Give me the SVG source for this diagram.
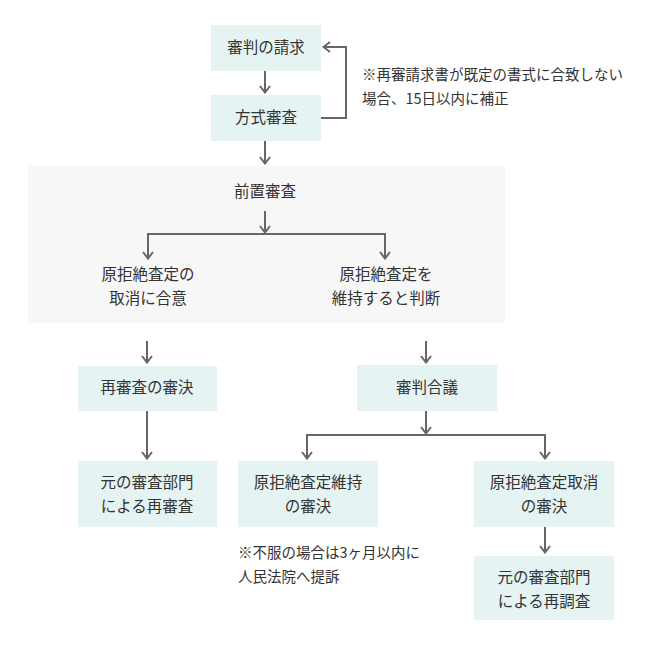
<svg xmlns="http://www.w3.org/2000/svg" width="660" height="645" viewBox="0 0 660 645">
<defs>
<style>
.box{fill:#e5f4f2;}
.t{font-family:"Noto Sans CJK JP","Noto Sans",sans-serif;font-size:15.5px;fill:#333;text-anchor:middle;}
.n{font-family:"Noto Sans CJK JP","Noto Sans",sans-serif;font-size:14.5px;fill:#333;}
.ln{fill:none;stroke:#666;stroke-width:2;}
</style>
<marker id="ah" viewBox="0 0 9 12" refX="8" refY="6" markerWidth="9" markerHeight="12" markerUnits="userSpaceOnUse" orient="auto-start-reverse">
<path d="M1,1 L7.5,6 L1,11" fill="none" stroke="#666" stroke-width="2"/>
</marker>
</defs>
<rect width="660" height="645" fill="#fff"/>
<g id="region">
<rect x="28" y="166" width="477" height="157" fill="#f7f7f7"/>
</g>
<g id="connectors">
<path class="ln" d="M265,71 V93" marker-end="url(#ah)"/>
<path class="ln" d="M321,118 H346 V47 H323" marker-end="url(#ah)"/>
<path class="ln" d="M265,141 V164" marker-end="url(#ah)"/>
<path class="ln" d="M265,211 V233" marker-end="url(#ah)"/>
<path class="ln" d="M148,259 V234 H385 V259" marker-start="url(#ah)" marker-end="url(#ah)"/>
<path class="ln" d="M147,341 V363" marker-end="url(#ah)"/>
<path class="ln" d="M147,411 V459" marker-end="url(#ah)"/>
<path class="ln" d="M426,341 V363" marker-end="url(#ah)"/>
<path class="ln" d="M426,411 V434" marker-end="url(#ah)"/>
<path class="ln" d="M307,459 V435 H545 V459" marker-start="url(#ah)" marker-end="url(#ah)"/>
<path class="ln" d="M545,527 V553" marker-end="url(#ah)"/>
</g>
<g id="n1"><rect class="box" x="211" y="25" width="110" height="46"/><text class="t" x="266" y="53">審判の請求</text></g>
<g id="n2"><rect class="box" x="211" y="95" width="110" height="46"/><text class="t" x="266" y="123">方式審査</text></g>
<g id="note1"><text class="n" x="362" y="80">※再審請求書が既定の書式に合致しない</text><text class="n" x="362" y="104">場合、15日以内に補正</text></g>
<g id="n3"><text class="t" x="265" y="197">前置審査</text></g>
<g id="n4"><text class="t" x="148" y="280">原拒絶査定の</text><text class="t" x="148" y="304">取消に合意</text></g>
<g id="n5"><text class="t" x="386" y="280">原拒絶査定を</text><text class="t" x="386" y="304">維持すると判断</text></g>
<g id="n6"><rect class="box" x="78" y="366" width="139" height="45"/><text class="t" x="147" y="393">再審査の審決</text></g>
<g id="n7"><rect class="box" x="78" y="461" width="139" height="66"/><text class="t" x="147" y="488">元の審査部門</text><text class="t" x="147" y="512">による再審査</text></g>
<g id="n8"><rect class="box" x="357" y="365" width="140" height="46"/><text class="t" x="427" y="393">審判合議</text></g>
<g id="n9"><rect class="box" x="238" y="461" width="140" height="66"/><text class="t" x="308" y="488">原拒絶査定維持</text><text class="t" x="308" y="512">の審決</text></g>
<g id="n10"><rect class="box" x="474" y="461" width="140" height="66"/><text class="t" x="544" y="488">原拒絶査定取消</text><text class="t" x="544" y="512">の審決</text></g>
<g id="n11"><rect class="box" x="474" y="556" width="140" height="64"/><text class="t" x="544" y="583">元の審査部門</text><text class="t" x="544" y="607">による再調査</text></g>
<g id="note2"><text class="n" x="238" y="558">※不服の場合は3ヶ月以内に</text><text class="n" x="238" y="582">人民法院へ提訴</text></g>
</svg>
